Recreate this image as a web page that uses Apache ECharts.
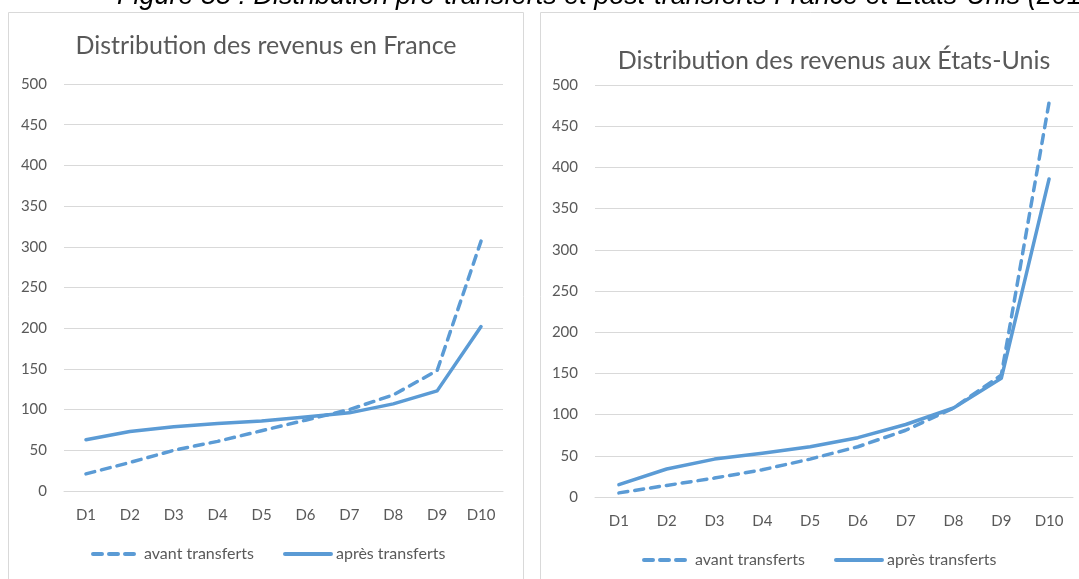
<!DOCTYPE html>
<html>
<head>
<meta charset="utf-8">
<script src="https://cdn.jsdelivr.net/npm/echarts@6/dist/echarts.min.js"></script>
<style>
  html, body { margin: 0; padding: 0; background: #fff; }
  #chart { width: 1079px; height: 579px; }
</style>
</head>
<body>
<div id="chart"></div>
<script>
// deciles
const deciles = ['D1', 'D2', 'D3', 'D4', 'D5', 'D6', 'D7', 'D8', 'D9', 'D10']
const yTicks = [0, 50, 100, 150, 200, 250, 300, 350, 400, 450, 500]

// France
const franceAvant = [21, 35, 50, 61, 74, 87, 100, 118, 148, 307]
const franceApres = [63, 73, 79, 83, 86, 91, 96, 107, 123, 202]

// Etats-Unis
const usAvant = [5, 14, 23, 33, 46, 61, 81, 108, 148, 479]
const usApres = [15, 34, 46, 53, 61, 72, 88, 108, 144, 386]

const seriesNames = ['avant transferts', 'après transferts']

const blue = '#5B9BD5'
const grey = '#595959'
const font = 'Lato'

function xAxisFor (gridIndex) {
  return {
    type: 'category',
    gridIndex: gridIndex,
    data: deciles,
    boundaryGap: true,
    axisLine: { lineStyle: { color: '#d9d9d9', width: 1 } },
    axisTick: { show: false },
    axisLabel: { color: grey, fontSize: 15, fontFamily: font, margin: 17 }
  }
}

function yAxisFor (gridIndex) {
  return {
    type: 'value',
    gridIndex: gridIndex,
    min: yTicks[0],
    max: yTicks[yTicks.length - 1],
    interval: 50,
    axisLine: { show: false },
    axisTick: { show: false },
    splitLine: { lineStyle: { color: '#d9d9d9', width: 1 } },
    axisLabel: { color: grey, fontSize: 15, fontFamily: font, margin: 17 }
  }
}

function lineFor (name, data, idx, dashed) {
  return {
    name: name,
    type: 'line',
    xAxisIndex: idx,
    yAxisIndex: idx,
    data: data,
    symbol: 'none',
    smooth: false,
    lineStyle: {
      color: blue,
      width: 3.5,
      type: dashed ? [9, 7] : 'solid',
      cap: 'round',
      join: 'round'
    },
    itemStyle: { color: blue },
    emphasis: { disabled: true }
  }
}

function legendFor (left, top) {
  return {
    left: left,
    top: top,
    itemWidth: 46,
    itemHeight: 14,
    itemGap: 29,
    selectedMode: false,
    itemStyle: { opacity: 0 },
    lineStyle: { width: 4, cap: 'round' },
    textStyle: { color: grey, fontSize: 16, fontFamily: font },
    data: seriesNames
  }
}

const chart = echarts.init(document.getElementById('chart'))
chart.setOption({
  animation: false,
  textStyle: { fontFamily: font },
  title: [
    {
      text: 'Distribution des revenus en France',
      left: 261,
      top: 28,
      textAlign: 'center',
      textStyle: { color: grey, fontSize: 25, fontWeight: 'normal', fontFamily: font }
    },
    {
      text: 'Distribution des revenus aux États-Unis',
      left: 829,
      top: 43,
      textAlign: 'center',
      textStyle: { color: grey, fontSize: 25, fontWeight: 'normal', fontFamily: font }
    }
  ],
  legend: [legendFor(86, 541), legendFor(637, 547)],
  grid: [
    { left: 64, right: 576, top: 84, bottom: 88 },
    { left: 595, right: 6, top: 85, bottom: 82 }
  ],
  xAxis: [xAxisFor(0), xAxisFor(1)],
  yAxis: [yAxisFor(0), yAxisFor(1)],
  series: [
    lineFor(seriesNames[0], franceAvant, 0, true),
    lineFor(seriesNames[1], franceApres, 0, false),
    lineFor(seriesNames[0], usAvant, 1, true),
    lineFor(seriesNames[1], usApres, 1, false)
  ],
  graphic: [
    {
      type: 'rect',
      shape: { x: 8.5, y: 12.5, width: 515, height: 600 },
      style: { fill: 'none', stroke: '#d9d9d9', lineWidth: 1 },
      z: -10
    },
    {
      type: 'rect',
      shape: { x: 540.5, y: 12.5, width: 600, height: 600 },
      style: { fill: 'none', stroke: '#d9d9d9', lineWidth: 1 },
      z: -10
    },
    {
      type: 'text',
      x: 117,
      y: -4,
      style: {
        text: 'Figure 55 : Distribution pré-transferts et post-transferts France et États-Unis (2010)',
        font: 'italic 27px "Liberation Sans"',
        fill: '#000',
        verticalAlign: 'middle'
      }
    }
  ]
})
</script>
</body>
</html>
